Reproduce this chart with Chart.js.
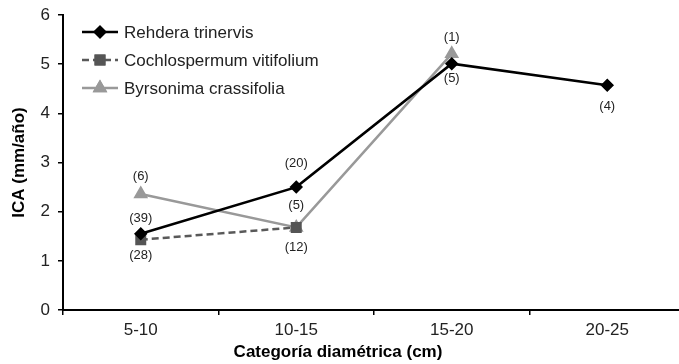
<!DOCTYPE html>
<html>
<head>
<meta charset="utf-8">
<script src="https://cdn.jsdelivr.net/npm/chart.js@4/dist/chart.umd.min.js"></script>
<style>
  html, body { margin: 0; padding: 0; background: #fff; overflow: hidden; }
  /* the x axis runs on past the right edge of the page */
  #wrap { width: 679px; height: 364px; position: relative; overflow: hidden; }
</style>
</head>
<body>
<div id="wrap"><canvas id="c" width="685" height="364"></canvas></div>
<script>
// Diameter classes (cm)
const categories = ['5-10', '10-15', '15-20', '20-25'];

// Mean annual diameter increment, ICA (mm/año)
const rehdera = [1.55, 2.5, 5.01, 4.57];
const cochlospermum = [1.43, 1.68, null, null];
const byrsonima = [2.36, 1.68, 5.21, null];

// Number of trees per class
const rehderaN = [39, 20, 5, 4];
const cochlospermumN = [28, 12, null, null];
const byrsonimaN = [6, 5, 1, null];

const yTicks = [0, 1, 2, 3, 4, 5, 6];

const xTitle = 'Categoría diamétrica (cm)';

const FONT = "'Liberation Sans', Arial, sans-serif";

// Sample-size labels, placed above (negative) or below (positive) each point
const countLabels = {
  id: 'countLabels',
  afterDatasetsDraw(chart, args, opts) {
    const ctx = chart.ctx;
    ctx.save();
    ctx.font = '13px ' + FONT;
    ctx.fillStyle = '#222';
    ctx.textAlign = 'center';
    ctx.textBaseline = 'middle';
    opts.sets.forEach(set => {
      const meta = chart.getDatasetMeta(set.dataset);
      set.counts.forEach((n, i) => {
        if (n == null) return;
        const pt = meta.data[i];
        ctx.fillText('(' + n + ')', pt.x, pt.y + set.dy[i]);
      });
    });
    ctx.restore();
  }
};

// Legend drawn inside the plot area, top left
const insideLegend = {
  id: 'insideLegend',
  afterDraw(chart, args, opts) {
    const ctx = chart.ctx;
    ctx.save();
    chart.data.datasets.forEach((ds, i) => {
      const y = opts.top + i * opts.rowGap;
      const x0 = opts.left, x1 = opts.left + opts.lineLen;
      ctx.strokeStyle = ds.borderColor;
      ctx.lineWidth = ds.borderWidth;
      ctx.setLineDash(ds.borderDash || []);
      ctx.beginPath();
      ctx.moveTo(x0, y);
      ctx.lineTo(x1, y);
      ctx.stroke();
      ctx.setLineDash([]);
      Chart.helpers.drawPoint(ctx, {
        pointStyle: ds.pointStyle,
        radius: ds.pointRadius,
        rotation: 0,
        borderWidth: 1
      }, (x0 + x1) / 2, y);
      ctx.fillStyle = ds.pointBackgroundColor;
      ctx.strokeStyle = ds.pointBorderColor;
      ctx.fill();
      ctx.stroke();
      ctx.fillStyle = '#222';
      ctx.font = '17px ' + FONT;
      ctx.textAlign = 'left';
      ctx.textBaseline = 'middle';
      ctx.fillText(ds.label, x1 + 6, y + 1);
    });
    ctx.restore();
  }
};

// X axis title, centred on the visible page width
const bottomTitle = {
  id: 'bottomTitle',
  afterDraw(chart, args, opts) {
    const ctx = chart.ctx;
    ctx.save();
    ctx.font = 'bold 17px ' + FONT;
    ctx.fillStyle = '#000';
    ctx.textAlign = 'center';
    ctx.textBaseline = 'middle';
    ctx.fillText(opts.text, opts.x, opts.y);
    ctx.restore();
  }
};

new Chart(document.getElementById('c'), {
  type: 'line',
  data: {
    labels: categories,
    datasets: [
      {
        label: 'Rehdera trinervis',
        data: rehdera,
        borderColor: '#000',
        backgroundColor: '#000',
        borderWidth: 2.5,
        pointStyle: 'rectRot',
        pointRadius: 5,
        pointBackgroundColor: '#000',
        pointBorderColor: '#000'
      },
      {
        label: 'Cochlospermum vitifolium',
        data: cochlospermum,
        borderColor: '#595959',
        backgroundColor: '#595959',
        borderWidth: 2.5,
        borderDash: [7, 4],
        pointStyle: 'rect',
        pointRadius: 6,
        pointBackgroundColor: '#555',
        pointBorderColor: '#555'
      },
      {
        label: 'Byrsonima crassifolia',
        data: byrsonima,
        borderColor: '#999',
        backgroundColor: '#999',
        borderWidth: 2.5,
        pointStyle: 'triangle',
        pointRadius: 6,
        pointBackgroundColor: '#999',
        pointBorderColor: '#999'
      }
    ]
  },
  options: {
    responsive: false,
    animation: false,
    devicePixelRatio: 1,
    layout: { autoPadding: false, padding: { top: 15, right: 0, left: 0, bottom: 0 } },
    plugins: {
      legend: { display: false },
      tooltip: { enabled: false },
      countLabels: {
        sets: [
          { dataset: 0, counts: rehderaN, dy: [-15, -24, 15, 21] },
          { dataset: 1, counts: cochlospermumN, dy: [16, 20, 0, 0] },
          { dataset: 2, counts: byrsonimaN, dy: [-18, -22, -16, 0] }
        ]
      },
      insideLegend: { left: 82, top: 32, rowGap: 28, lineLen: 36 },
      bottomTitle: { text: xTitle, x: 338, y: 352 }
    },
    scales: {
      x: {
        offset: true,
        grid: {
          offset: true,
          drawOnChartArea: false,
          drawTicks: true,
          tickLength: 5,
          color: '#000',
          lineWidth: 1.5
        },
        border: { color: '#000', width: 2 },
        ticks: {
          color: '#222',
          font: { family: FONT, size: 17 },
          padding: 5,
          maxRotation: 0
        },
        title: { display: false },
        afterFit: s => { s.height = 54; s.paddingLeft = 0; s.paddingRight = 0; }
      },
      y: {
        min: 0,
        max: 6,
        afterBuildTicks: s => { s.ticks = yTicks.map(v => ({ value: v })); },
        grid: {
          drawOnChartArea: false,
          drawTicks: true,
          tickLength: 5,
          color: '#000',
          lineWidth: 1.5
        },
        border: { color: '#000', width: 2 },
        ticks: {
          color: '#222',
          font: { family: FONT, size: 17 },
          padding: 8
        },
        title: {
          display: true,
          text: 'ICA (mm/año)',
          color: '#000',
          font: { family: FONT, size: 17, weight: 'bold' },
          padding: { top: 9, bottom: 0 }
        },
        afterFit: s => { s.width = 63; s.paddingTop = 0; s.paddingBottom = 0; }
      }
    }
  },
  plugins: [countLabels, insideLegend, bottomTitle]
});
</script>
</body>
</html>
